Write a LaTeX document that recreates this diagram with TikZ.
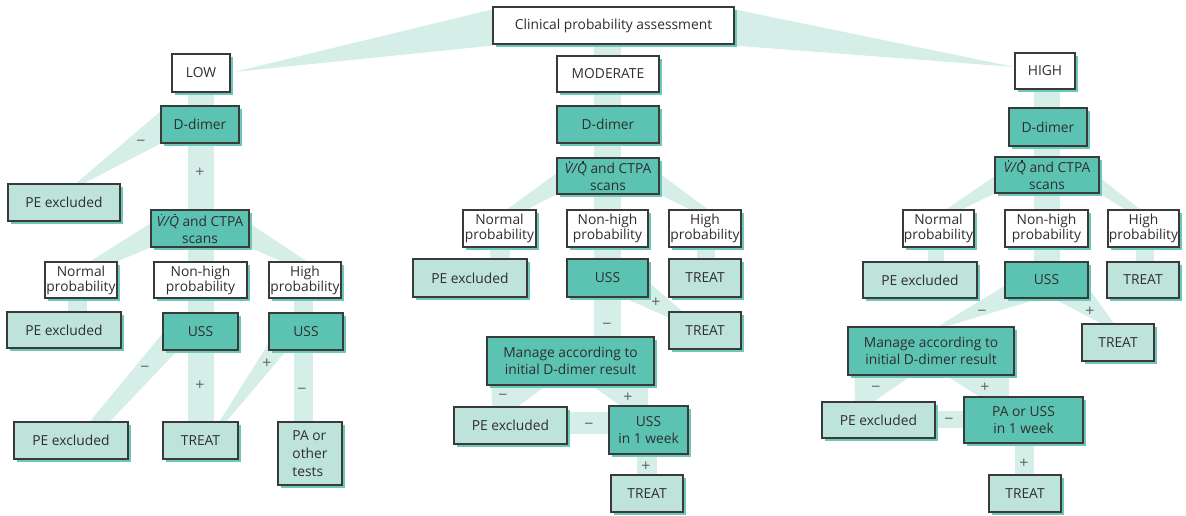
\documentclass[tikz,border=0pt]{standalone}
\usepackage{fontspec}
\setmainfont{Open Sans}
\newfontfamily\signfont{DejaVu Sans}
\usetikzlibrary{calc,shadows,backgrounds}
\newcommand\vqdot[1]{\leavevmode\setbox0\hbox{#1}\rlap{\hbox to\wd0{\hfil\hskip0.16em\raisebox{0.8em}{\rule{1.5pt}{1.5pt}}\hfil}}\box0}
\newcommand\vqtext{\textit{\vqdot{V}/\vqdot{Q}}}
\definecolor{band}{HTML}{D6EEE8}
\definecolor{dark}{HTML}{5CC3B3}
\definecolor{light}{HTML}{BEE3DB}
\definecolor{shd}{HTML}{6CC9B9}
\definecolor{bord}{HTML}{3A3A3A}
\definecolor{txt}{HTML}{2E2E2E}
\definecolor{sgn}{HTML}{5A5A5A}
\tikzset{
  bx/.style={draw=bord, line width=1.2pt, text=txt, inner sep=1pt, align=center,
    font=\fontsize{13.8}{17}\selectfont,
    general shadow={fill=shd, shadow xshift=3pt, shadow yshift=-3pt}},
  wbox/.style={bx, fill=white},
  dbox/.style={bx, fill=dark},
  lbox/.style={bx, fill=light},
  tight/.style={font=\fontsize{13.8}{15}\selectfont},
  lbl/.style={text=sgn, font=\signfont\fontsize{12}{12}\selectfont, inner sep=1pt},
  bandfill/.style={fill=band}
}
\begin{document}
\begin{tikzpicture}[x=1pt,y=-1pt]
\useasboundingbox (0,0) rectangle (1186,515);
% ---------- top ----------
\node[wbox, minimum width=241, minimum height=37] (cpa) at (613.5,25.5) {Clinical probability assessment};
\node[wbox, minimum width=58, minimum height=38] (low) at (201,73) {LOW};
\node[wbox, minimum width=102, minimum height=36] (mod) at (608,74) {MODERATE};
\node[wbox, minimum width=60, minimum height=36] (high) at (1045,71) {HIGH};
% ---------- low ----------
\node[dbox, minimum width=78, minimum height=37] (ddL) at (200,124.5) {D-dimer};
\node[lbox, minimum width=112, minimum height=37] (peL1) at (64,202.5) {PE excluded};
\node[dbox, minimum width=98, minimum height=37] (vqL) at (200,228.5) {\vqtext{} and CTPA\\scans};
\node[wbox, tight, minimum width=72, minimum height=36] (nL) at (81,280) {Normal\\probability};
\node[wbox, tight, minimum width=93, minimum height=36] (nhL) at (200.5,280) {Non-high\\probability};
\node[wbox, tight, minimum width=72, minimum height=36] (hL) at (305,280) {High\\probability};
\node[lbox, minimum width=114, minimum height=36] (peL2) at (64,330) {PE excluded};
\node[dbox, minimum width=75, minimum height=37] (ussL1) at (200.5,331.5) {USS};
\node[dbox, minimum width=74, minimum height=37] (ussL2) at (306,331.5) {USS};
\node[lbox, minimum width=114, minimum height=37] (peL3) at (71,440.5) {PE excluded};
\node[lbox, minimum width=75, minimum height=37] (trL) at (200.5,440.5) {TREAT};
\node[lbox, align=left, minimum width=64, minimum height=63, font=\fontsize{13.8}{18}\selectfont] (paL) at (310,453.5) {PA or\\other\\tests};
% ---------- moderate ----------
\node[dbox, minimum width=102, minimum height=37] (ddM) at (608,124.5) {D-dimer};
\node[dbox, minimum width=102, minimum height=36] (vqM) at (608,176) {\vqtext{} and CTPA\\scans};
\node[wbox, tight, minimum width=73, minimum height=37] (nM) at (499.5,228.5) {Normal\\probability};
\node[wbox, tight, minimum width=81, minimum height=37] (nhM) at (607.5,228.5) {Non-high\\probability};
\node[wbox, tight, minimum width=72, minimum height=37] (hM) at (705,228.5) {High\\probability};
\node[lbox, minimum width=114, minimum height=38] (peM1) at (470,278) {PE excluded};
\node[dbox, minimum width=81, minimum height=38] (ussM) at (607.5,278) {USS};
\node[lbox, minimum width=72, minimum height=38] (trM1) at (705,278) {TREAT};
\node[lbox, minimum width=72, minimum height=37] (trM2) at (705,330.5) {TREAT};
\node[dbox, minimum width=167, minimum height=48] (manM) at (570.5,361) {Manage according to\\initial D-dimer result};
\node[lbox, minimum width=113, minimum height=37] (peM2) at (510.5,425.5) {PE excluded};
\node[dbox, minimum width=79, minimum height=48] (ussM2) at (648.5,430) {USS\\in 1 week};
\node[lbox, minimum width=72, minimum height=37] (trM3) at (647,493.5) {TREAT};
% ---------- high ----------
\node[dbox, minimum width=78, minimum height=38] (ddH) at (1048,127) {D-dimer};
\node[dbox, minimum width=104, minimum height=36] (vqH) at (1047,175) {\vqtext{} and CTPA\\scans};
\node[wbox, tight, minimum width=71, minimum height=37] (nH) at (938.5,228.5) {Normal\\probability};
\node[wbox, tight, minimum width=83, minimum height=37] (nhH) at (1046.5,228.5) {Non-high\\probability};
\node[wbox, tight, minimum width=71, minimum height=37] (hH) at (1143.5,228.5) {High\\probability};
\node[lbox, minimum width=114, minimum height=36] (peH1) at (920,280) {PE excluded};
\node[dbox, minimum width=83, minimum height=36] (ussH) at (1046.5,280) {USS};
\node[lbox, minimum width=72, minimum height=36] (trH1) at (1143,280) {TREAT};
\node[lbox, minimum width=72, minimum height=37] (trH2) at (1118,342.5) {TREAT};
\node[dbox, minimum width=166, minimum height=48] (manH) at (931,351) {Manage according to\\initial D-dimer result};
\node[lbox, minimum width=113, minimum height=36] (peH2) at (878.5,420) {PE excluded};
\node[dbox, minimum width=119, minimum height=46] (paH) at (1023.5,420) {PA or USS\\in 1 week};
\node[lbox, minimum width=72, minimum height=37] (trH3) at (1025,493.5) {TREAT};
% ---------- signs ----------
\node[lbl] (s1) at (141,142) {−};
\node[lbl] (s2) at (200,172) {+};
\node[lbl] (s3) at (145,368) {−};
\node[lbl] (s4) at (200,385) {+};
\node[lbl] (s5) at (267,363) {+};
\node[lbl] (s6) at (302,390) {−};
\node[lbl] (s7) at (656,302) {+};
\node[lbl] (s8) at (607,325) {−};
\node[lbl] (s9) at (503,396) {−};
\node[lbl] (s10) at (628,397) {+};
\node[lbl] (s11) at (589,425) {−};
\node[lbl] (s12) at (646,466) {+};
\node[lbl] (s13) at (982,312) {−};
\node[lbl] (s14) at (1090,311) {+};
\node[lbl] (s15) at (876,388) {−};
\node[lbl] (s16) at (985,387) {+};
\node[lbl] (s17) at (949,420) {−};
\node[lbl] (s18) at (1024,463) {+};
% ---------- bands ----------
\begin{scope}[on background layer]
% top
\fill[bandfill] ($(cpa.north west)+(0,3)$) -- ($(cpa.south west)+(0,1)$) -- ($(low.east)+(3,-1)$) -- cycle;
\fill[bandfill] ($(cpa.north east)+(0,3)$) -- ($(cpa.south east)+(0,1)$) -- ($(high.west)+(0,-4)$) -- cycle;
% low
\fill[bandfill] ($(low.south)+(-13,0)$) rectangle ($(trL.north)+(13,0)$);
\fill[bandfill] ($(nL.south)+(-13,0)$) rectangle ($(peL2.north)+(23,0)$);
\fill[bandfill] ($(hL.south)+(-11,0)$) rectangle ($(paL.north)+(3,0)$);
\fill[bandfill] ($(ddL.north west)+(0,6)$) -- (ddL.south west) -- ($(peL1.north)+(20,0)$) -- ($(peL1.north)+(12,0)$) -- cycle;
\fill[bandfill] ($(vqL.north west)+(0,14)$) -- (vqL.south west) -- ($(nL.north)+(36,0)$) -- ($(nL.north)+(9,0)$) -- cycle;
\fill[bandfill] ($(vqL.north east)+(0,14)$) -- (vqL.south east) -- ($(hL.north)+(-23,0)$) -- ($(hL.north)+(2,0)$) -- cycle;
\fill[bandfill] ($(ussL1.west)+(0,2)$) -- ($(ussL1.south west)+(15,0)$) -- ($(peL3.north)+(39,0)$) -- ($(peL3.north)+(19,0)$) -- cycle;
\fill[bandfill] ($(ussL2.south west)+(0,-7)$) -- ($(ussL2.south west)+(18,0)$) -- ($(trL.north)+(26,0)$) -- ($(trL.north)+(19,0)$) -- cycle;
% moderate
\fill[bandfill] ($(cpa.south)+(-19.5,0)$) rectangle ($(mod.north)+(13,0)$);
\fill[bandfill] ($(mod.south)+(-14,0)$) rectangle ($(manM.north)+(50.5,0)$);
\fill[bandfill] ($(nM.south)+(-9.5,0)$) rectangle ($(peM1.north)+(40,0)$);
\fill[bandfill] ($(hM.south)+(-8,0)$) rectangle ($(trM1.north)+(10,0)$);
\fill[bandfill] ($(vqM.north west)+(0,16)$) -- (vqM.south west) -- ($(nM.north)+(27.5,0)$) -- ($(nM.north)+(7.5,0)$) -- cycle;
\fill[bandfill] ($(vqM.north east)+(0,16)$) -- (vqM.south east) -- ($(hM.north)+(-15,0)$) -- ($(hM.north)+(3,0)$) -- cycle;
\fill[bandfill] ($(ussM.east)+(0,4)$) -- ($(ussM.south east)+(-25,0)$) -- ($(trM2.north west)+(0,6)$) -- ($(trM2.north west)+(14,0)$) -- cycle;
\fill[bandfill] ($(manM.south west)+(5,0)$) -- ($(manM.south west)+(60,0)$) -- ($(peM2.north)+(7.5,0)$) -- ($(peM2.north)+(-18.5,0)$) -- cycle;
\fill[bandfill] ($(manM.south)+(21.5,0)$) -- ($(manM.south)+(77.5,0)$) -- ($(ussM2.north)+(-0.5,0)$) -- ($(ussM2.north)+(-28.5,0)$) -- cycle;
\fill[bandfill] ($(peM2.east)+(0,-13.5)$) rectangle ($(ussM2.west)+(0,4)$);
\fill[bandfill] ($(ussM2.south)+(-11.5,0)$) rectangle ($(trM3.north)+(10,0)$);
% high
\fill[bandfill] ($(high.south)+(-11,0)$) rectangle ($(ussH.north)+(13.5,0)$);
\fill[bandfill] ($(nH.south)+(-10.5,0)$) rectangle ($(peH1.north)+(24,0)$);
\fill[bandfill] ($(hH.south)+(-7.5,0)$) rectangle ($(trH1.north)+(11,0)$);
\fill[bandfill] ($(vqH.north west)+(0,20)$) -- (vqH.south west) -- ($(nH.north)+(23.5,0)$) -- ($(nH.north)+(7.5,0)$) -- cycle;
\fill[bandfill] ($(vqH.north east)+(0,21)$) -- (vqH.south east) -- ($(hH.north)+(-18.5,0)$) -- ($(hH.north)+(-3.5,0)$) -- cycle;
\fill[bandfill] ($(ussH.east)+(0,8)$) -- ($(ussH.south east)+(-35,0)$) -- ($(trH2.north)+(-17,0)$) -- ($(trH2.north)+(-4,0)$) -- cycle;
\fill[bandfill] ($(ussH.west)+(0,6)$) -- (ussH.south west) -- ($(ussH.south west)+(35,0)$) -- ($(manH.north)+(15,0)$) -- ($(manH.north)+(7,0)$) -- cycle;
\fill[bandfill] ($(manH.south west)+(7,0)$) -- ($(manH.south west)+(64,0)$) -- ($(peH2.north)+(-4.5,0)$) -- ($(peH2.north)+(-23.5,0)$) -- cycle;
\fill[bandfill] ($(manH.south)+(15,0)$) -- ($(manH.south)+(78,0)$) -- ($(paH.north)+(-14.5,0)$) -- ($(paH.north)+(-44.5,0)$) -- cycle;
\fill[bandfill] ($(peH2.east)+(0,-9)$) rectangle ($(paH.west)+(0,8)$);
\fill[bandfill] ($(paH.south)+(-8.5,0)$) rectangle ($(trH3.north)+(9,0)$);
\end{scope}
\end{tikzpicture}
\end{document}
